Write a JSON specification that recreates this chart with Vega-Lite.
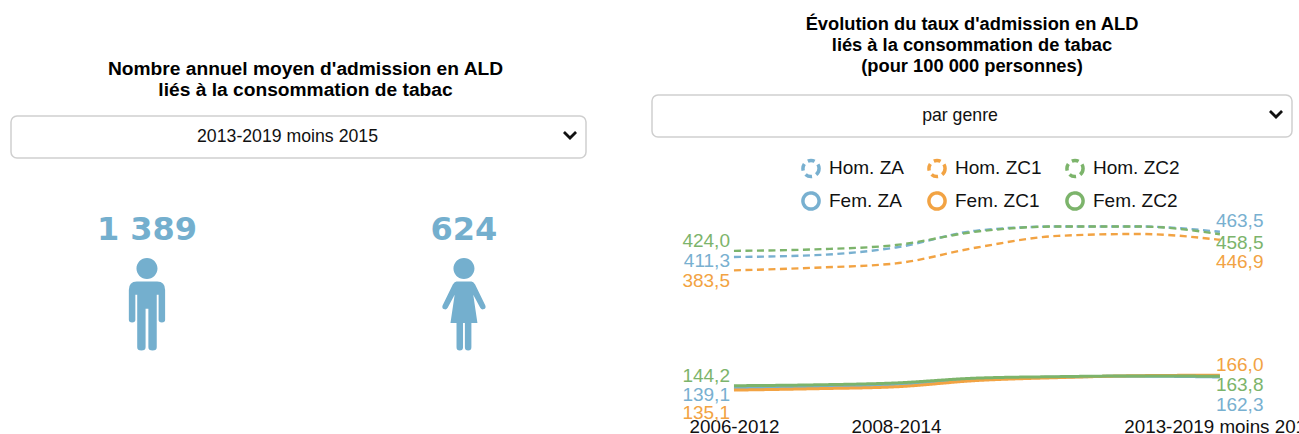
{
"$schema":"https://vega.github.io/schema/vega-lite/v6.json",
"padding":{"left":10,"top":13,"right":0,"bottom":0},
"background":"white",
"config":{"view":{"stroke":null},"font":"Liberation Sans","title":{"font":"Liberation Sans","fontWeight":"bold","lineHeight":21,"color":"#000","anchor":"middle"},"concat":{"spacing":64}},
"datasets":{
"pictos":[{"sexe":"Hommes","nombre":1389},{"sexe":"Femmes","nombre":624}],
"serie":[
{"periode":"2006-2012","serie":"Hom. ZA","sexe":"Hommes","taux":411.3},{"periode":"2007-2013","serie":"Hom. ZA","sexe":"Hommes","taux":415},{"periode":"2008-2014","serie":"Hom. ZA","sexe":"Hommes","taux":431},{"periode":"2009-2015","serie":"Hom. ZA","sexe":"Hommes","taux":466},{"periode":"2010-2016","serie":"Hom. ZA","sexe":"Hommes","taux":474.5},{"periode":"2011-2017","serie":"Hom. ZA","sexe":"Hommes","taux":474.5},{"periode":"2013-2019 moins 2015","serie":"Hom. ZA","sexe":"Hommes","taux":463.5},
{"periode":"2006-2012","serie":"Hom. ZC1","sexe":"Hommes","taux":383.5},{"periode":"2007-2013","serie":"Hom. ZC1","sexe":"Hommes","taux":389},{"periode":"2008-2014","serie":"Hom. ZC1","sexe":"Hommes","taux":398},{"periode":"2009-2015","serie":"Hom. ZC1","sexe":"Hommes","taux":431},{"periode":"2010-2016","serie":"Hom. ZC1","sexe":"Hommes","taux":455},{"periode":"2011-2017","serie":"Hom. ZC1","sexe":"Hommes","taux":459},{"periode":"2013-2019 moins 2015","serie":"Hom. ZC1","sexe":"Hommes","taux":446.9},
{"periode":"2006-2012","serie":"Hom. ZC2","sexe":"Hommes","taux":424.0},{"periode":"2007-2013","serie":"Hom. ZC2","sexe":"Hommes","taux":427},{"periode":"2008-2014","serie":"Hom. ZC2","sexe":"Hommes","taux":436},{"periode":"2009-2015","serie":"Hom. ZC2","sexe":"Hommes","taux":464},{"periode":"2010-2016","serie":"Hom. ZC2","sexe":"Hommes","taux":474.5},{"periode":"2011-2017","serie":"Hom. ZC2","sexe":"Hommes","taux":474.5},{"periode":"2013-2019 moins 2015","serie":"Hom. ZC2","sexe":"Hommes","taux":458.5},
{"periode":"2006-2012","serie":"Fem. ZA","sexe":"Femmes","taux":139.1},{"periode":"2007-2013","serie":"Fem. ZA","sexe":"Femmes","taux":142},{"periode":"2008-2014","serie":"Fem. ZA","sexe":"Femmes","taux":147},{"periode":"2009-2015","serie":"Fem. ZA","sexe":"Femmes","taux":158},{"periode":"2010-2016","serie":"Fem. ZA","sexe":"Femmes","taux":162},{"periode":"2011-2017","serie":"Fem. ZA","sexe":"Femmes","taux":164},{"periode":"2013-2019 moins 2015","serie":"Fem. ZA","sexe":"Femmes","taux":162.3},
{"periode":"2006-2012","serie":"Fem. ZC1","sexe":"Femmes","taux":135.1},{"periode":"2007-2013","serie":"Fem. ZC1","sexe":"Femmes","taux":138},{"periode":"2008-2014","serie":"Fem. ZC1","sexe":"Femmes","taux":142},{"periode":"2009-2015","serie":"Fem. ZC1","sexe":"Femmes","taux":155},{"periode":"2010-2016","serie":"Fem. ZC1","sexe":"Femmes","taux":161},{"periode":"2011-2017","serie":"Fem. ZC1","sexe":"Femmes","taux":165},{"periode":"2013-2019 moins 2015","serie":"Fem. ZC1","sexe":"Femmes","taux":166.0},
{"periode":"2006-2012","serie":"Fem. ZC2","sexe":"Femmes","taux":144.2},{"periode":"2007-2013","serie":"Fem. ZC2","sexe":"Femmes","taux":146},{"periode":"2008-2014","serie":"Fem. ZC2","sexe":"Femmes","taux":150},{"periode":"2009-2015","serie":"Fem. ZC2","sexe":"Femmes","taux":160},{"periode":"2010-2016","serie":"Fem. ZC2","sexe":"Femmes","taux":163},{"periode":"2011-2017","serie":"Fem. ZC2","sexe":"Femmes","taux":164.5},{"periode":"2013-2019 moins 2015","serie":"Fem. ZC2","sexe":"Femmes","taux":163.8}
]},
"hconcat":[
{"spacing":14,"vconcat":[
{"title":{"text":["Nombre annuel moyen d'admission en ALD","liés à la consommation de tabac"],"fontSize":19.2,"offset":0,"dx":7,"dy":11},
 "width":575,"height":1,
 "data":{"values":[{"vide":" "}]},
 "mark":{"type":"text"},
 "encoding":{"text":{"field":"vide"}}},
{"width":575,"height":42,
 "view":{"stroke":"#cfcfcf","strokeWidth":1.5,"cornerRadius":6},
 "data":{"values":[{"choix":"2013-2019 moins 2015"}]},
 "layer":[
 {"mark":{"type":"text","fontSize":17.7,"font":"Liberation Sans","color":"#111","dx":-11},"encoding":{"text":{"field":"choix"}}},
 {"mark":{"type":"point","x":"width","xOffset":-16,"filled":true,"color":"#111","size":784,"opacity":1,"shape":"M-0.5,-0.28L0,0.22L0.5,-0.28L0.36,-0.42L0,-0.08L-0.36,-0.42Z"},"encoding":{}}
 ]},
{"width":575,"height":262,
 "data":{"name":"pictos"},
 "transform":[{"calculate":"replace(format(datum.nombre,',d'),',',' ')","as":"etiquette"}],
 "encoding":{"x":{"field":"sexe","type":"nominal","sort":null,"scale":{"type":"point","domain":["Hommes","Femmes"],"padding":0.407,"align":0.527},"axis":null}},
 "layer":[
 {"mark":{"type":"point","filled":true,"size":8649,"opacity":1,"color":"#74afce"},
  "encoding":{"shape":{"field":"sexe","type":"nominal","legend":null,"scale":{"domain":["Hommes","Femmes"],"range":[
  "M-0.226,-0.763a0.226,0.226 0 1,0 0.452,0a0.226,0.226 0 1,0 -0.452,0ZM-0.22,-0.484L0.22,-0.484Q0.39,-0.484 0.39,-0.3L0.39,0.34Q0.39,0.4 0.32,0.4Q0.25,0.4 0.25,0.34L0.25,-0.2L0.21,-0.2L0.21,0.93Q0.21,1 0.12,1Q0.03,1 0.03,0.93L0.03,0.1L-0.03,0.1L-0.03,0.93Q-0.03,1 -0.12,1Q-0.21,1 -0.21,0.93L-0.21,-0.2L-0.25,-0.2L-0.25,0.34Q-0.25,0.4 -0.32,0.4Q-0.39,0.4 -0.39,0.34L-0.39,-0.3Q-0.39,-0.484 -0.22,-0.484Z",
  "M-0.226,-0.763a0.226,0.226 0 1,0 0.452,0a0.226,0.226 0 1,0 -0.452,0ZM-0.16,-0.484L0.16,-0.484Q0.2,-0.484 0.24,-0.42L0.46,0.03Q0.48,0.09 0.43,0.11Q0.38,0.13 0.35,0.08L0.2,-0.2L0.29,0.41L0.16,0.41L0.16,0.93Q0.16,1 0.09,1Q0.02,1 0.02,0.93L0.02,0.41L-0.02,0.41L-0.02,0.93Q-0.02,1 -0.09,1Q-0.16,1 -0.16,0.93L-0.16,0.41L-0.29,0.41L-0.2,-0.2L-0.35,0.08Q-0.38,0.13 -0.43,0.11Q-0.48,0.09 -0.46,0.03L-0.24,-0.42Q-0.2,-0.484 -0.16,-0.484Z"]}}}},
 {"mark":{"type":"text","font":"DejaVu Sans","fontWeight":"bold","fontSize":32,"color":"#74afce","dy":-74.5},
  "encoding":{"text":{"field":"etiquette"}}}
 ]}
]},
{"spacing":73.5,"vconcat":[
{"title":{"text":["Évolution du taux d'admission en ALD","liés à la consommation de tabac","(pour 100 000 personnes)"],"fontSize":18.3,"offset":19},
 "width":640,"height":42,
 "view":{"stroke":"#cfcfcf","strokeWidth":1.5,"cornerRadius":6},
 "data":{"values":[{"choix":"par genre"}]},
 "layer":[
 {"mark":{"type":"text","fontSize":17.7,"font":"Liberation Sans","color":"#111","dx":-12},"encoding":{"text":{"field":"choix"}}},
 {"mark":{"type":"point","x":"width","xOffset":-16,"filled":true,"color":"#111","size":784,"opacity":1,"shape":"M-0.5,-0.28L0,0.22L0.5,-0.28L0.36,-0.42L0,-0.08L-0.36,-0.42Z"},"encoding":{}}
 ]},
{"width":640,"height":195,
 "data":{"name":"serie"},
 "transform":[{"calculate":"replace(format(datum.taux,'.1f'),'.',',')","as":"etiquette"}],
 "encoding":{
  "x":{"field":"periode","type":"ordinal","sort":null,"scale":{"type":"point","padding":0.951,"align":0.532},
   "axis":{"title":null,"domain":false,"ticks":false,"grid":false,"values":["2006-2012","2008-2014","2013-2019 moins 2015"],"labelAngle":0,"labelFontSize":18.8,"labelColor":"#111","labelFont":"Liberation Sans","labelOverlap":false,"labelBound":false,"labelFlush":false,"labelLimit":400,"labelPadding":3}},
  "y":{"field":"taux","type":"quantitative","scale":{"domain":[84.5,489],"nice":false,"zero":false},"axis":null}},
 "layer":[
 {"mark":{"type":"line","interpolate":"monotone"},
  "encoding":{
   "stroke":{"field":"serie","type":"nominal","sort":null,
    "scale":{"domain":["Hom. ZA","Hom. ZC1","Hom. ZC2","Fem. ZA","Fem. ZC1","Fem. ZC2"],"range":["#78b0d0","#f2a343","#7cb46b","#78b0d0","#f2a343","#7cb46b"]},
    "legend":{"title":null,"orient":"none","legendX":790,"legendY":63,"columns":3,"direction":"horizontal","symbolType":"circle","symbolSize":260,"symbolStrokeWidth":3.5,"symbolFillColor":"#ffffff","labelFontSize":19,"labelFont":"Liberation Sans","labelColor":"#111","columnPadding":17,"rowPadding":1,"labelOffset":8,"padding":0,"labelLimit":200}},
   "strokeDash":{"field":"serie","type":"nominal","sort":null,
    "scale":{"domain":["Hom. ZA","Hom. ZC1","Hom. ZC2","Fem. ZA","Fem. ZC1","Fem. ZC2"],"range":[[7,4.5],[7,4.5],[7,4.5],[1,0],[1,0],[1,0]]},
    "legend":{"title":null,"orient":"none","legendX":790,"legendY":63,"columns":3,"direction":"horizontal","symbolType":"circle","symbolSize":260,"symbolStrokeWidth":3.5,"symbolFillColor":"#ffffff","labelFontSize":19,"labelFont":"Liberation Sans","labelColor":"#111","columnPadding":17,"rowPadding":1,"labelOffset":8,"padding":0,"labelLimit":200}},
   "strokeWidth":{"field":"sexe","type":"nominal","legend":null,"scale":{"domain":["Hommes","Femmes"],"range":[2.4,3]}},
   "detail":{"field":"serie"}}},
 {"encoding":{"text":{"field":"etiquette"}},
  "layer":[
  {"transform":[{"filter":"datum.periode==='2006-2012' && datum.serie==='Hom. ZC2'"}],"mark":{"type":"text","color":"#7cb46b","align":"right","fontSize":19,"dx":-4,"dy":-9.5}},
  {"transform":[{"filter":"datum.periode==='2006-2012' && datum.serie==='Hom. ZA'"}],"mark":{"type":"text","color":"#78b0d0","align":"right","fontSize":19,"dx":-4,"dy":4.5}},
  {"transform":[{"filter":"datum.periode==='2006-2012' && datum.serie==='Hom. ZC1'"}],"mark":{"type":"text","color":"#f2a343","align":"right","fontSize":19,"dx":-4,"dy":11}},
  {"transform":[{"filter":"datum.periode==='2006-2012' && datum.serie==='Fem. ZC2'"}],"mark":{"type":"text","color":"#7cb46b","align":"right","fontSize":19,"dx":-4,"dy":-9.5}},
  {"transform":[{"filter":"datum.periode==='2006-2012' && datum.serie==='Fem. ZA'"}],"mark":{"type":"text","color":"#78b0d0","align":"right","fontSize":19,"dx":-4,"dy":7}},
  {"transform":[{"filter":"datum.periode==='2006-2012' && datum.serie==='Fem. ZC1'"}],"mark":{"type":"text","color":"#f2a343","align":"right","fontSize":19,"dx":-4,"dy":23}},
  {"transform":[{"filter":"datum.periode==='2013-2019 moins 2015' && datum.serie==='Hom. ZA'"}],"mark":{"type":"text","color":"#78b0d0","align":"left","fontSize":19,"dx":-4,"dy":-10.5}},
  {"transform":[{"filter":"datum.periode==='2013-2019 moins 2015' && datum.serie==='Hom. ZC2'"}],"mark":{"type":"text","color":"#7cb46b","align":"left","fontSize":19,"dx":-4,"dy":9}},
  {"transform":[{"filter":"datum.periode==='2013-2019 moins 2015' && datum.serie==='Hom. ZC1'"}],"mark":{"type":"text","color":"#f2a343","align":"left","fontSize":19,"dx":-4,"dy":22.5}},
  {"transform":[{"filter":"datum.periode==='2013-2019 moins 2015' && datum.serie==='Fem. ZC1'"}],"mark":{"type":"text","color":"#f2a343","align":"left","fontSize":19,"dx":-4,"dy":-10}},
  {"transform":[{"filter":"datum.periode==='2013-2019 moins 2015' && datum.serie==='Fem. ZC2'"}],"mark":{"type":"text","color":"#7cb46b","align":"left","fontSize":19,"dx":-4,"dy":9}},
  {"transform":[{"filter":"datum.periode==='2013-2019 moins 2015' && datum.serie==='Fem. ZA'"}],"mark":{"type":"text","color":"#78b0d0","align":"left","fontSize":19,"dx":-4,"dy":28}}
  ]}
 ]}
]}
]
}
